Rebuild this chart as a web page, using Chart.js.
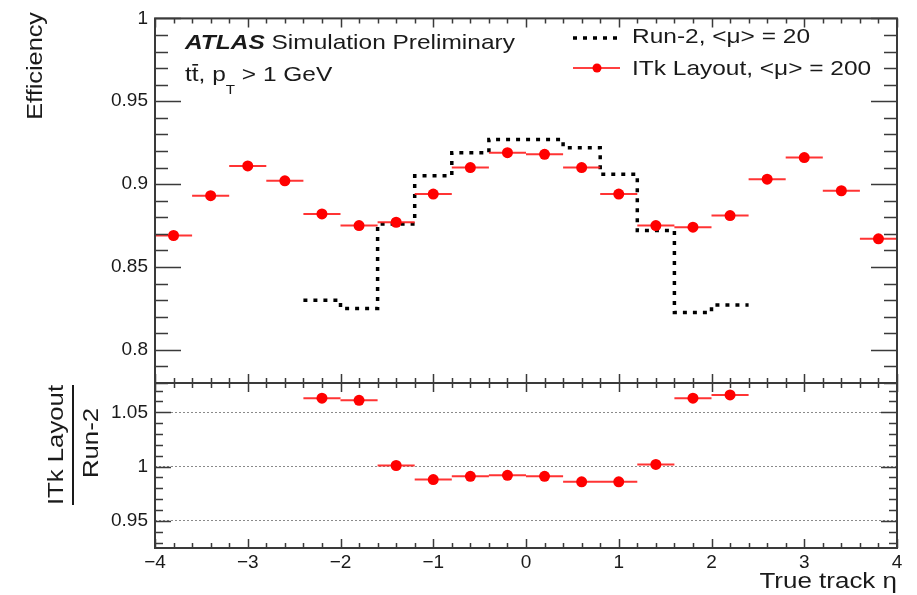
<!DOCTYPE html>
<html>
<head>
<meta charset="utf-8">
<script src="https://cdn.jsdelivr.net/npm/chart.js@4.4.0/dist/chart.umd.min.js"></script>
<style>
  body { margin: 0; background: #fff; }
  #wrap { position: relative; width: 917px; height: 595px; }
  canvas { position: absolute; left: 0; top: 0; }
</style>
</head>
<body>
<div id="wrap">
  <canvas id="effCanvas" width="917" height="595"></canvas>
  <canvas id="ratioCanvas" width="917" height="595"></canvas>
</div>
<script>
// efficiency vs true eta, bins of 0.4
const etaCentres = [-3.8, -3.4, -3.0, -2.6, -2.2, -1.8, -1.4, -1.0, -0.6, -0.2, 0.2, 0.6, 1.0, 1.4, 1.8, 2.2, 2.6, 3.0, 3.4, 3.8];
const itkEff = [0.869, 0.893, 0.911, 0.902, 0.882, 0.875, 0.877, 0.894, 0.910, 0.919, 0.918, 0.910, 0.894, 0.875, 0.874, 0.881, 0.903, 0.916, 0.896, 0.867];
const etaHalfWidth = 0.2;

// Run-2 histogram (|eta| < 2.4)
const run2Edges = [-2.4, -2.0, -1.6, -1.2, -0.8, -0.4, 0.0, 0.4, 0.8, 1.2, 1.6, 2.0, 2.4];
const run2Eff = [0.830, 0.825, 0.876, 0.905, 0.919, 0.927, 0.927, 0.922, 0.906, 0.872, 0.8225, 0.827];

// ratio ITk / Run-2
const ratioCentres = [-2.2, -1.8, -1.4, -1.0, -0.6, -0.2, 0.2, 0.6, 1.0, 1.4, 1.8, 2.2];
const ratioVals = [1.063, 1.061, 1.001, 0.988, 0.991, 0.992, 0.991, 0.986, 0.986, 1.002, 1.063, 1.066];

const xTicks = [-4, -3, -2, -1, 0, 1, 2, 3, 4];
const effTicks = [0.8, 0.85, 0.9, 0.95, 1];
const ratioTicks = [0.95, 1, 1.05];

const FF = '"Liberation Sans", Arial, Helvetica, sans-serif';
const textColor = '#1a1a1a';
const axisColor = '#3a3a3a';
const red = '#ff0000';

function stepPoints(edges, vals) {
    return edges.map((x, i) => ({ x: x, y: vals[Math.min(i, vals.length - 1)] }));
}

function xErrSegments(centres, vals) {
    const out = [];
    centres.forEach((c, i) => {
        out.push({ x: c - etaHalfWidth, y: vals[i] });
        out.push({ x: c + etaHalfWidth, y: vals[i] });
        out.push({ x: c + etaHalfWidth, y: null });
    });
    return out;
}

function points(centres, vals) {
    return centres.map((c, i) => ({ x: c, y: vals[i] }));
}

function drawText(ctx, str, x, y, opt) {
    ctx.save();
    ctx.translate(x, y);
    if (opt.rot) ctx.rotate(opt.rot);
    ctx.scale(opt.sx || 1, 1);
    ctx.font = opt.font;
    ctx.fillStyle = opt.color || textColor;
    ctx.textAlign = opt.align || 'left';
    ctx.textBaseline = 'alphabetic';
    ctx.fillText(str, 0, 0);
    const w = ctx.measureText(str).width * (opt.sx || 1);
    ctx.restore();
    return w;
}

function eachTick(min, max, minor, major, fn) {
    for (let k = Math.ceil(min / minor - 1e-6); k * minor <= max + 1e-9; k++) {
        const v = k * minor;
        const r = v / major;
        fn(v, Math.abs(r - Math.round(r)) < 1e-6);
    }
}

// ROOT style frame with inward ticks on all four sides
const rootFrame = {
    id: 'rootFrame',
    afterDatasetsDraw(chart, args, o) {
        const ctx = chart.ctx, a = chart.chartArea;
        const x = chart.scales.x, y = chart.scales.y;
        ctx.save();
        ctx.strokeStyle = axisColor;
        ctx.lineWidth = 1.5;
        ctx.beginPath();
        eachTick(y.min, y.max, o.yMinor, o.yMajor, (v, major) => {
            const py = Math.round(y.getPixelForValue(v)) + 0.5;
            const len = major ? o.yLen[0] : o.yLen[1];
            ctx.moveTo(a.left, py); ctx.lineTo(a.left + len, py);
            ctx.moveTo(a.right, py); ctx.lineTo(a.right - len, py);
        });
        eachTick(x.min, x.max, o.xMinor, o.xMajor, (v, major) => {
            const px = Math.round(x.getPixelForValue(v)) + 0.5;
            const len = major ? o.xLen[0] : o.xLen[1];
            ctx.moveTo(px, a.top); ctx.lineTo(px, a.top + len);
            ctx.moveTo(px, a.bottom); ctx.lineTo(px, a.bottom - len);
        });
        ctx.stroke();
        ctx.lineWidth = 2;
        ctx.strokeRect(a.left, a.top, a.right - a.left, a.bottom - a.top);
        ctx.restore();
    }
};

const labels = {
    id: 'labels',
    afterDraw(chart, args, o) {
        if (o.draw) o.draw(chart.ctx, chart);
    }
};

Chart.register(rootFrame, labels);

const tickFont = { family: FF, size: 19 };

function fmtTick(v) {
    return v < 0 ? '\u2212' + Math.abs(v) : String(v);
}

// ---------- upper panel ----------
new Chart(document.getElementById('effCanvas'), {
    type: 'line',
    data: {
        datasets: [
            {
                label: 'Run-2, <\u03bc> = 20',
                data: stepPoints(run2Edges, run2Eff),
                stepped: true,
                borderColor: '#000',
                borderWidth: 3.5,
                borderDash: [4, 6],
                pointRadius: 0,
                fill: false,
                order: 3
            },
            {
                label: 'ITk err',
                data: xErrSegments(etaCentres, itkEff),
                borderColor: 'rgba(255,30,30,0.9)',
                borderWidth: 2,
                pointRadius: 0,
                spanGaps: false,
                fill: false,
                order: 2
            },
            {
                label: 'ITk Layout, <\u03bc> = 200',
                data: points(etaCentres, itkEff),
                showLine: false,
                pointRadius: 5.5,
                pointBackgroundColor: red,
                pointBorderColor: red,
                pointBorderWidth: 0,
                order: 1
            }
        ]
    },
    options: {
        responsive: false,
        animation: false,
        devicePixelRatio: 1,
        layout: { padding: { top: 13, right: 20, bottom: 212, left: 0 } },
        scales: {
            x: { type: 'linear', min: -4, max: 4, display: false },
            y: {
                type: 'linear', min: 0.78, max: 1,
                afterBuildTicks: s => { s.ticks = effTicks.map(v => ({ value: v })); },
                afterFit: s => { s.width = 155; },
                grid: { display: false, drawTicks: false },
                border: { display: false },
                ticks: { font: tickFont, color: textColor, padding: 7, callback: v => fmtTick(v) }
            }
        },
        plugins: {
            legend: { display: false },
            tooltip: { enabled: false },
            rootFrame: { yMinor: 0.01, yMajor: 0.05, yLen: [26, 13], xMinor: 0.2, xMajor: 1, xLen: [9, 5] },
            labels: {
                draw(ctx) {
                    drawText(ctx, 'Efficiency', 42, 12, { font: '22px ' + FF, sx: 1.15, rot: -Math.PI / 2, align: 'right' });

                    const f21 = { font: '21px ' + FF, sx: 1.165 };
                    let w = drawText(ctx, 'ATLAS', 185, 49, { font: 'italic bold 21px ' + FF, sx: 1.165 });
                    drawText(ctx, ' Simulation Preliminary', 185 + w, 49, f21);

                    let cx = 185;
                    cx += drawText(ctx, 't', cx, 81, f21);
                    const tw = drawText(ctx, 't', cx, 81, f21);
                    ctx.fillStyle = textColor;
                    ctx.fillRect(cx + 0.5, 64, tw - 1, 1.6);
                    cx += tw;
                    cx += drawText(ctx, ', p', cx, 81, f21);
                    cx += drawText(ctx, 'T', cx, 94, { font: '13px ' + FF, sx: 1.165 });
                    drawText(ctx, ' > 1 GeV', cx, 81, f21);

                    // legend
                    ctx.save();
                    ctx.strokeStyle = '#000';
                    ctx.lineWidth = 3.5;
                    ctx.setLineDash([4, 6]);
                    ctx.beginPath(); ctx.moveTo(573, 38); ctx.lineTo(621, 38); ctx.stroke();
                    ctx.setLineDash([]);
                    ctx.strokeStyle = red;
                    ctx.lineWidth = 1.5;
                    ctx.beginPath(); ctx.moveTo(573, 68); ctx.lineTo(620, 68); ctx.stroke();
                    ctx.fillStyle = red;
                    ctx.beginPath(); ctx.arc(597, 68, 4.5, 0, Math.PI * 2); ctx.fill();
                    ctx.restore();
                    drawText(ctx, 'Run-2, <\u03bc> = 20', 632, 43, f21);
                    drawText(ctx, 'ITk Layout, <\u03bc> = 200', 632, 75, f21);
                }
            }
        }
    }
});

// ---------- ratio panel ----------
new Chart(document.getElementById('ratioCanvas'), {
    type: 'line',
    data: {
        datasets: [
            {
                label: 'ratio err',
                data: xErrSegments(ratioCentres, ratioVals),
                borderColor: 'rgba(255,30,30,0.9)',
                borderWidth: 2,
                pointRadius: 0,
                spanGaps: false,
                fill: false,
                order: 2
            },
            {
                label: 'ITk Layout / Run-2',
                data: points(ratioCentres, ratioVals),
                showLine: false,
                pointRadius: 5.5,
                pointBackgroundColor: red,
                pointBorderColor: red,
                pointBorderWidth: 0,
                order: 1
            }
        ]
    },
    options: {
        responsive: false,
        animation: false,
        devicePixelRatio: 1,
        layout: { padding: { top: 383, right: 20, bottom: 0, left: 0 } },
        scales: {
            x: {
                type: 'linear', min: -4, max: 4,
                afterBuildTicks: s => { s.ticks = xTicks.map(v => ({ value: v })); },
                afterFit: s => { s.height = 47; },
                grid: { display: false, drawTicks: false },
                border: { display: false },
                ticks: { font: tickFont, color: textColor, padding: 3, maxRotation: 0, callback: v => fmtTick(v) }
            },
            y: {
                type: 'linear', min: 0.925, max: 1.077,
                afterBuildTicks: s => { s.ticks = ratioTicks.map(v => ({ value: v })); },
                afterFit: s => { s.width = 155; },
                grid: { display: true, drawTicks: false, color: '#8a8a8a', lineWidth: 1 },
                border: { display: false, dash: [2, 2] },
                ticks: { font: tickFont, color: textColor, padding: 7, callback: v => fmtTick(v) }
            }
        },
        plugins: {
            legend: { display: false },
            tooltip: { enabled: false },
            rootFrame: { yMinor: 0.01, yMajor: 0.05, yLen: [16, 8], xMinor: 0.2, xMajor: 1, xLen: [9, 5] },
            labels: {
                draw(ctx) {
                    const f22 = { font: '22px ' + FF, sx: 1.17, rot: -Math.PI / 2, align: 'center' };
                    drawText(ctx, 'ITk Layout', 63, 445, f22);
                    ctx.fillStyle = textColor;
                    ctx.fillRect(72, 385, 2, 120);
                    drawText(ctx, 'Run-2', 98, 443, f22);
                    drawText(ctx, 'True track \u03b7', 897, 588, { font: '22px ' + FF, sx: 1.18, align: 'right' });
                }
            }
        }
    }
});
</script>
</body>
</html>
